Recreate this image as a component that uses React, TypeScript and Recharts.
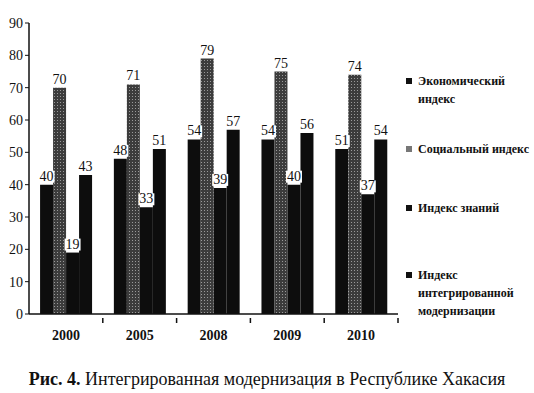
import { Bar, BarChart, LabelList, XAxis, YAxis } from "recharts";

const years = ["2000", "2005", "2008", "2009", "2010"];
const economic = [40, 48, 54, 54, 51];
const social = [70, 71, 79, 75, 74];
const knowledge = [19, 33, 39, 40, 37];
const integrated = [43, 51, 57, 56, 54];
const yTicks = [0, 10, 20, 30, 40, 50, 60, 70, 80, 90];

const seriesNames = [
  "Экономический индекс",
  "Социальный индекс",
  "Индекс знаний",
  "Индекс интегрированной модернизации",
];
const legendLines = [
  ["Экономический", "индекс"],
  ["Социальный индекс"],
  ["Индекс знаний"],
  ["Индекс", "интегрированной", "модернизации"],
];

const data = years.map((year, i) => ({
  year,
  economic: economic[i],
  social: social[i],
  knowledge: knowledge[i],
  integrated: integrated[i],
}));

const SERIF = "Times New Roman, Liberation Serif, DejaVu Serif, serif";
const W = 534;
const H = 393;
const PLOT_LEFT = 29;
const PLOT_RIGHT = 398;
const BAND = (PLOT_RIGHT - PLOT_LEFT) / years.length;

const ValueLabel = (props: any) => {
  const { x, y, width, value } = props;
  const cx = x + width / 2;
  return (
    <g>
      <rect x={cx - 8} y={y - 14} width={16} height={12} fill="#fff" />
      <text
        x={cx}
        y={y - 4}
        textAnchor="middle"
        fontFamily={SERIF}
        fontSize={14}
        fill="#111"
      >
        {value}
      </text>
    </g>
  );
};

const YearTick = (props: any) => {
  const { x, y, payload } = props;
  const right = x + BAND / 2;
  return (
    <g>
      <line x1={right} y1={y - 4} x2={right} y2={y + 1} stroke="#111" strokeWidth={1.5} />
      <text
        x={x}
        y={y + 18}
        textAnchor="middle"
        fontFamily={SERIF}
        fontSize={14}
        fontWeight={600}
        fill="#111"
      >
        {payload.value}
      </text>
    </g>
  );
};

const legendTops = [72, 140, 199, 266];

export default function App() {
  return (
    <div style={{ position: "absolute", left: 0, top: 0, width: W, height: H, background: "#fff" }}>
      <BarChart
        width={W}
        height={H}
        data={data}
        margin={{ top: 23, right: W - PLOT_RIGHT, left: 0, bottom: 49 }}
        barCategoryGap="15%"
        barGap={0}
      >
        <defs>
          <pattern id="dots" width="3" height="3" patternUnits="userSpaceOnUse">
            <rect width="3" height="3" fill="#3c3c3c" />
            <rect width="1" height="1" fill="#9a9a9a" />
          </pattern>
        </defs>
        <XAxis
          dataKey="year"
          height={30}
          tick={<YearTick />}
          tickLine={false}
          axisLine={{ stroke: "#111", strokeWidth: 1.5 }}
        />
        <YAxis
          width={PLOT_LEFT}
          domain={[0, 90]}
          ticks={yTicks}
          interval={0}
          tickSize={4}
          tick={{ fontFamily: SERIF, fontSize: 14, fill: "#111" }}
          tickLine={{ stroke: "#111" }}
          axisLine={{ stroke: "#111", strokeWidth: 1.5 }}
        />
        <Bar dataKey="economic" name={seriesNames[0]} fill="#0d0d0d" isAnimationActive={false}>
          <LabelList dataKey="economic" content={<ValueLabel />} />
        </Bar>
        <Bar dataKey="social" name={seriesNames[1]} fill="url(#dots)" isAnimationActive={false}>
          <LabelList dataKey="social" content={<ValueLabel />} />
        </Bar>
        <Bar dataKey="knowledge" name={seriesNames[2]} fill="#0d0d0d" isAnimationActive={false}>
          <LabelList dataKey="knowledge" content={<ValueLabel />} />
        </Bar>
        <Bar dataKey="integrated" name={seriesNames[3]} fill="#0d0d0d" isAnimationActive={false}>
          <LabelList dataKey="integrated" content={<ValueLabel />} />
        </Bar>
      </BarChart>

      {legendLines.map((lines, i) => (
        <div
          key={seriesNames[i]}
          style={{
            position: "absolute",
            left: 406,
            top: legendTops[i],
            fontFamily: SERIF,
            fontSize: 12,
            lineHeight: "18px",
            color: "#111",
            fontWeight: 600,
          }}
        >
          <span
            style={{
              position: "absolute",
              left: 0,
              top: 6,
              width: 6,
              height: 6,
              background: i === 1 ? "#777" : "#111",
            }}
          />
          <div style={{ marginLeft: 12 }}>
            {lines.map((l) => (
              <div key={l}>{l}</div>
            ))}
          </div>
        </div>
      ))}

      <div
        style={{
          position: "absolute",
          left: 0,
          width: W,
          top: 369,
          textAlign: "center",
          fontFamily: SERIF,
          fontSize: 18,
          color: "#111",
        }}
      >
        <b>Рис. 4.</b> Интегрированная модернизация в Республике Хакасия
      </div>
    </div>
  );
}
